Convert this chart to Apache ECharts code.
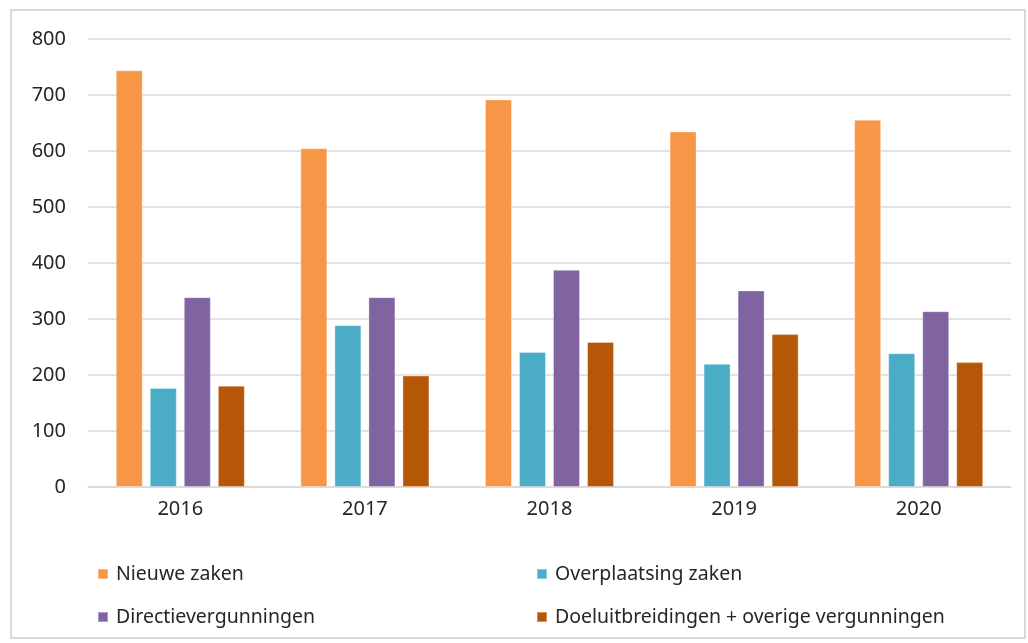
<!DOCTYPE html>
<html>
<head>
<meta charset="utf-8">
<script src="https://cdn.jsdelivr.net/npm/echarts@6/dist/echarts.min.js"></script>
<style>
  html, body { margin: 0; padding: 0; background: #fff; }
  #main { position: absolute; left: 10px; top: 9px; width: 1016px; height: 630px; border: 2px solid #d9d9d9; box-sizing: border-box; }
</style>
</head>
<body>
<div id="main"></div>
<script>
// gegevens
var jaren = ['2016', '2017', '2018', '2019', '2020'];
var nieuweZaken = [744, 605, 692, 635, 656];
var overplaatsingZaken = [177, 289, 241, 220, 239];
var directievergunningen = [339, 339, 388, 351, 314];
var doeluitbreidingen = [181, 199, 259, 273, 223];
var yTicks = [0, 100, 200, 300, 400, 500, 600, 700, 800];

var myChart = echarts.init(document.getElementById('main'));

var font = 'Noto Sans';
function bar(name, data, color) {
    return {
        name: name,
        type: 'bar',
        data: data,
        barWidth: 27,
        barGap: '26%',
        itemStyle: { color: color, borderColor: 'rgba(255,255,255,0.35)', borderWidth: 1 }
    };
}

var legendText = { fontFamily: font, fontSize: 19.5, lineHeight: 20, color: '#262626', padding: [0, 0, 0, 3] };

var option = {
    animation: false,
    grid: { left: 76, right: 13, top: 28, bottom: 150 },
    legend: [{
        orient: 'vertical',
        left: 80, top: 548,
        itemWidth: 10, itemHeight: 10, itemGap: 23,
        icon: 'rect',
        textStyle: legendText,
        data: ['Nieuwe zaken', 'Directievergunningen']
    }, {
        orient: 'vertical',
        left: 519, top: 548,
        itemWidth: 10, itemHeight: 10, itemGap: 23,
        icon: 'rect',
        textStyle: legendText,
        data: ['Overplaatsing zaken', 'Doeluitbreidingen + overige vergunningen']
    }],
    xAxis: {
        type: 'category',
        data: jaren,
        axisLine: { lineStyle: { color: '#d9d9d9', width: 1.5 } },
        axisTick: { show: false },
        axisLabel: { fontFamily: font, fontSize: 20, color: '#262626', margin: 12 }
    },
    yAxis: {
        type: 'value',
        min: yTicks[0],
        max: yTicks[yTicks.length - 1],
        interval: 100,
        axisLine: { show: false },
        axisTick: { show: false },
        splitLine: { lineStyle: { color: '#d9d9d9', width: 1.5 } },
        axisLabel: { fontFamily: font, fontSize: 20, color: '#262626', margin: 22 }
    },
    series: [
        bar('Nieuwe zaken', nieuweZaken, '#F79646'),
        bar('Overplaatsing zaken', overplaatsingZaken, '#4BACC6'),
        bar('Directievergunningen', directievergunningen, '#8064A2'),
        bar('Doeluitbreidingen + overige vergunningen', doeluitbreidingen, '#B65708')
    ]
};

myChart.setOption(option);
</script>
</body>
</html>
